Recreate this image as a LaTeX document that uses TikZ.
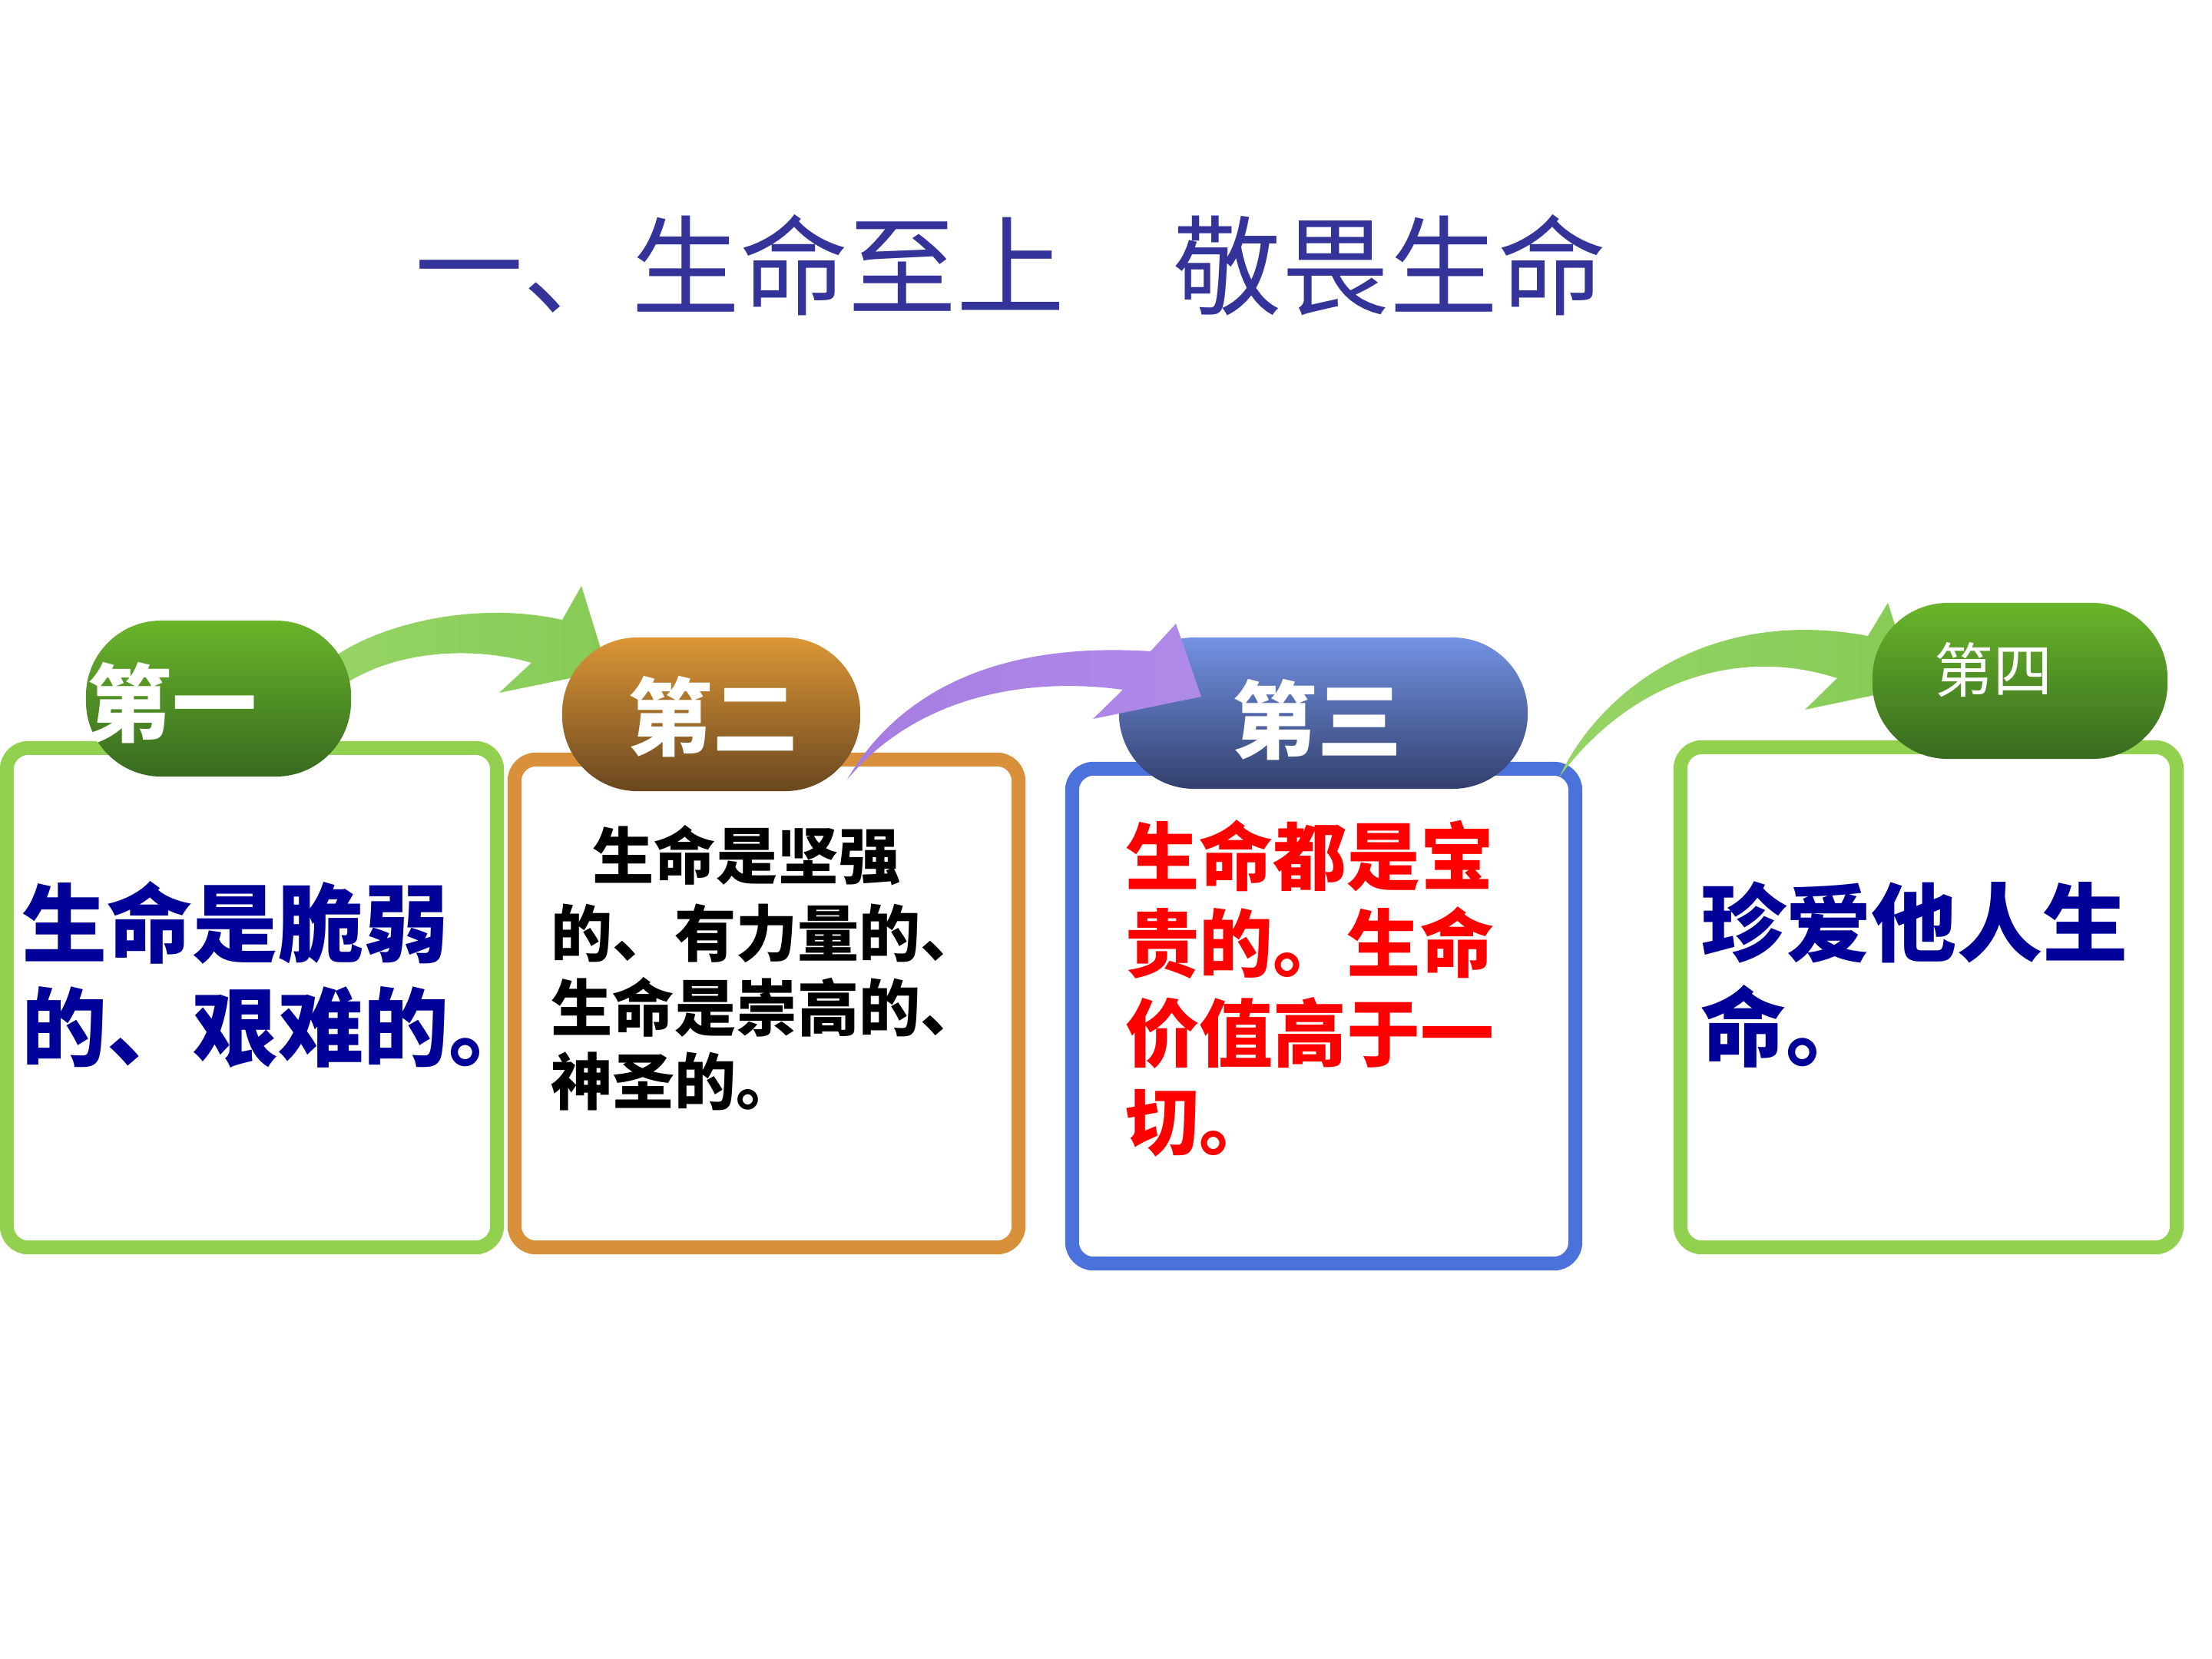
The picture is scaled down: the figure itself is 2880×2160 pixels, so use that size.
\documentclass[tikz,border=0pt]{standalone}
\usepackage{fontspec}
\setmainfont{Noto Sans CJK SC}
\definecolor{titleblue}{HTML}{333399}
\definecolor{navy}{HTML}{000099}
\definecolor{lgreen}{HTML}{92D050}
\definecolor{bord2}{HTML}{D8913A}
\definecolor{bord3}{HTML}{4A72DA}
\definecolor{g1top}{HTML}{6AB52A}
\definecolor{g1bot}{HTML}{376A1F}
\definecolor{o2top}{HTML}{DB9636}
\definecolor{o2bot}{HTML}{6A471F}
\definecolor{b3top}{HTML}{7392E3}
\definecolor{b3bot}{HTML}{33406E}
\definecolor{arrgA}{HTML}{96D466}
\definecolor{arrgB}{HTML}{86CB55}
\definecolor{purA}{HTML}{A57DE2}
\definecolor{purB}{HTML}{B08AE9}
\tikzset{
  box/.style={draw, line width=0.18cm, rounded corners=0.28cm, fill=white, inner sep=0},
  pill/.style={rounded corners=0.98cm, inner sep=0, draw=none},
  lbl/.style={inner sep=0, anchor=west},
  pilltext/.style={inner sep=0, text=white, font=\bfseries\fontsize{31.3pt}{36pt}\selectfont},
  bigtext/.style={lbl, text=navy, font=\bfseries\fontsize{31.6pt}{38pt}\selectfont},
  midtext/.style={lbl, text=black, font=\bfseries\fontsize{22.8pt}{27pt}\selectfont},
  redtext/.style={lbl, text=red, font=\bfseries\fontsize{27.3pt}{33pt}\selectfont},
}
\begin{document}
\begin{tikzpicture}[x=0.01cm, y=-0.01cm]
\useasboundingbox (0,0) rectangle (2880,2160);
\fill[white] (0,0) rectangle (2880,2160);

% title
\node[inner sep=0, text=titleblue, font=\fontsize{40.1pt}{46pt}\selectfont] (title) at (1316,345) {一、生命至上　敬畏生命};

% boxes
\node[box, draw=lgreen, minimum width=6.38cm, minimum height=6.50cm] (b1) at (328,1299) {};
\node[box, draw=bord2, minimum width=6.56cm, minimum height=6.35cm] (b2) at (998,1306.5) {};
\node[box, draw=bord3, minimum width=6.55cm, minimum height=6.44cm] (b3) at (1723.5,1323) {};
\node[box, draw=lgreen, minimum width=6.46cm, minimum height=6.51cm] (b4) at (2511,1298.5) {};

% arrow 1 (green) and arrow 3 (green), under the pills
\shade[left color=arrgA, right color=arrgB]
  (440,852) .. controls (500,812) and (620,782) .. (732,807)
  -- (757,763) -- (791,873) -- (650,902) -- (692,863)
  .. controls (620,842) and (520,845) .. (450,890) -- (425,870) -- cycle;
\shade[left color=arrgA, right color=arrgB]
  (2030,1012) .. controls (2085,895) and (2230,790) .. (2432,828)
  -- (2458,785) -- (2493,894) -- (2350,924) -- (2392,883)
  .. controls (2260,840) and (2120,890) .. (2030,1012) -- cycle;

% pills
\node[pill, top color=g1top, bottom color=g1bot, minimum width=3.45cm, minimum height=2.03cm] (p1) at (284.5,909.5) {};
\node[pill, top color=o2top, bottom color=o2bot, minimum width=3.88cm, minimum height=2.00cm] (p2) at (926,930) {};
\node[pill, top color=b3top, bottom color=b3bot, minimum width=5.32cm, minimum height=1.97cm] (p3) at (1723,928.5) {};
\node[pill, top color=g1top, bottom color=g1bot, minimum width=3.84cm, minimum height=2.03cm] (p4) at (2630,886.5) {};

\node[pilltext] (t1) at (224,915) {第一};
\node[pilltext] (t2) at (928,933) {第二};
\node[pilltext] (t3) at (1715,937) {第三};
\node[inner sep=0, text=white, font=\fontsize{21.9pt}{26pt}\selectfont] (t4) at (2595,872) {第四};

% arrow 2 (purple), over the pills
\shade[left color=purA, right color=purB]
  (1103,1015) .. controls (1170,900) and (1300,835) .. (1498,848)
  -- (1531,812) -- (1564,907) -- (1423,936) -- (1462,898)
  .. controls (1330,880) and (1190,910) .. (1103,1015) -- cycle;

% box 1 text
\node[bigtext] (a1) at (28,1201) {生命是脆弱};
\node[bigtext] (a2) at (28,1337) {的、艰难的。};

% box 2 text
\node[midtext] (c1) at (771,1114) {生命是坚强};
\node[midtext] (c2) at (717,1215) {的、有力量的、};
\node[midtext] (c3) at (717,1311) {生命是崇高的、};
\node[midtext] (c4) at (717,1408) {神圣的。};

% box 3 text
\node[redtext] (d1) at (1465,1114) {生命都是宝};
\node[redtext] (d2) at (1465,1228) {贵的。生命};
\node[redtext] (d3) at (1465,1345) {价值高于一};
\node[redtext] (d4) at (1465,1462) {切。};

% box 4 text
\node[bigtext] (e1) at (2214,1201) {珍爱他人生};
\node[bigtext] (e2) at (2214,1336) {命。};
\end{tikzpicture}
\end{document}
